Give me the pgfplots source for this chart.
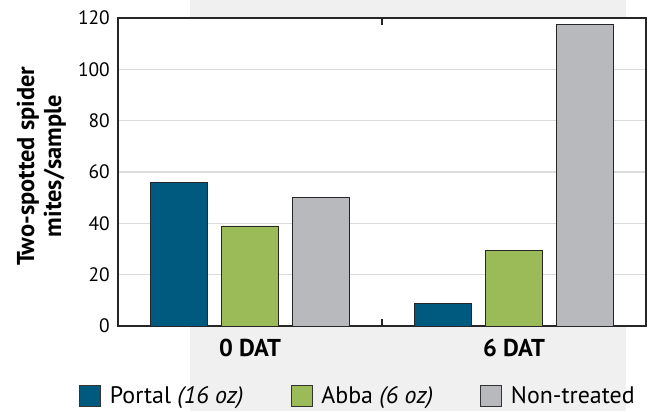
\documentclass[border=0pt]{standalone}
\usepackage{pgfplots}
\pgfplotsset{compat=1.18}
\usepackage{fontspec}
\setmainfont{PT Sans}
\definecolor{portal}{HTML}{005A80}
\definecolor{abba}{HTML}{9BBB59}
\definecolor{nont}{HTML}{B8B9BD}
\definecolor{bg}{HTML}{F0F0F0}
\definecolor{gridc}{HTML}{DCDCDC}
\begin{document}
\begin{tikzpicture}[x=1bp,y=1bp]
\path[use as bounding box] (0,0) rectangle (659,411);
\fill[bg] (190,0) rectangle (626,411);
\begin{axis}[
  at={(118bp,85bp)}, anchor=south west,
  scale only axis, width=528bp, height=308bp,
  ybar=14bp, bar width=57bp,
  xmin=-0.5, xmax=1.5, ymin=0, ymax=120,
  xtick={0,1}, xticklabels={0 DAT,6 DAT},
  x tick label style={font=\fontsize{24.5}{27}\selectfont\bfseries, anchor=center, inner sep=0pt, yshift=-22bp},
  ytick={0,20,...,120},
  y tick label style={font=\fontsize{19.5}{22}\selectfont, anchor=east, inner sep=0pt, xshift=-8bp},
  /pgf/number format/assume math mode=true,
  major tick length=0pt,
  ymajorgrids, grid style={gridc, line width=1.3bp},
  axis background/.style={fill=white},
  axis line style={line width=1.6bp, black!85},
  extra x ticks={0.5}, extra x tick labels={},
  extra x tick style={major tick length=7.5bp, tick align=inside, tick style={line width=1.2bp, black!85}, grid=none},
  ylabel={Two-spotted spider\\mites/sample},
  every axis y label/.style={at={(axis description cs:-0.145,0.519)}, rotate=90, anchor=center, align=center, font=\fontsize{24.5}{27}\selectfont\bfseries},
  legend columns=3,
  legend style={at={(axis description cs:-0.0739,-0.227)}, anchor=west, draw=none, fill=none, inner sep=0pt,
    font=\fontsize{24}{27}\selectfont, nodes={inner sep=0pt},
    /tikz/every even column/.append style={column sep=47bp},
    /tikz/every odd column/.append style={column sep=9bp}},
  legend cell align=left,
  legend image code/.code={\draw[#1,draw=black!80,line width=0.8bp] (0bp,-10.5bp) rectangle (21bp,10.5bp);},
]
\addplot[fill=portal, draw=black!85, line width=0.8bp] coordinates {(0,56) (1,8.7)};
\addplot[fill=abba, draw=black!85, line width=0.8bp] coordinates {(0,39) (1,29.3)};
\addplot[fill=nont, draw=black!85, line width=0.8bp] coordinates {(0,50) (1,117.5)};
\legend{Portal \textit{(16 oz)}, Abba \textit{(6 oz)}, Non-treated}
\end{axis}
\end{tikzpicture}
\end{document}
